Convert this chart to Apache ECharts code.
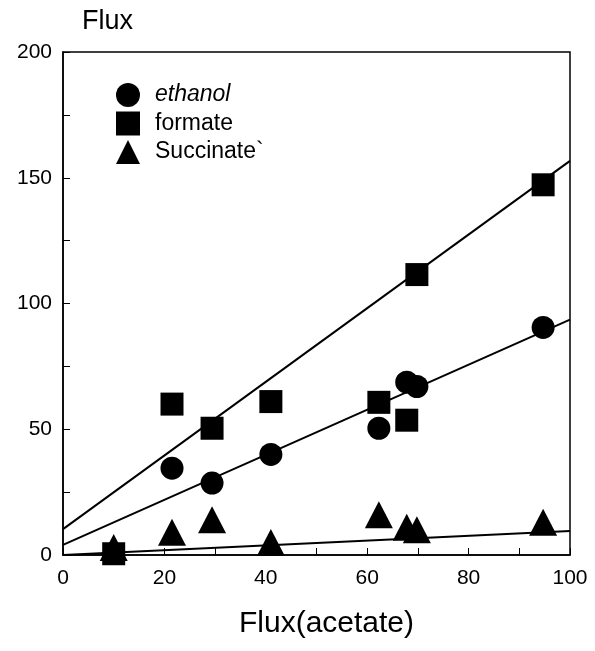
<!DOCTYPE html>
<html>
<head>
<meta charset="utf-8">
<script src="https://cdn.jsdelivr.net/npm/echarts@6/dist/echarts.min.js"></script>
<style>
  html, body { margin: 0; padding: 0; background: #fff; }
  #chart { width: 595px; height: 651px; }
</style>
</head>
<body>
<div id="chart"></div>
<script>
// 数据：乙酸通量 vs 各产物通量
var acetate = [10, 21.5, 29.4, 41, 62.3, 67.8, 69.8, 94.7];
var ethanol = [null, 34.5, 28.6, 40, 50.4, 68.7, 67, 90.5];
var formate = [0.5, 60, 50.4, 61, 60.7, 53.6, 111.5, 147.2];
var succinate = [3, 9, 14, 5, 16, 11, 10, 13];

// 拟合直线（从图上读两端）
var fitX = [0, 100];
var ethanolFit = [4, 93.6];
var formateFit = [10.3, 156.7];
var succinateFit = [0, 9.5];

function pairs(xs, ys) {
  var out = [];
  for (var i = 0; i < xs.length; i++) {
    if (ys[i] !== null) out.push([xs[i], ys[i]]);
  }
  return out;
}

var myChart = echarts.init(document.getElementById('chart'));
var font = 'Liberation Sans, Arial, Helvetica, sans-serif';

var option = {
  backgroundColor: '#fff',
  animation: false,
  textStyle: { fontFamily: font, color: '#000' },
  grid: {
    left: 63, right: 25, top: 52, bottom: 96,
    show: true, borderColor: '#000', borderWidth: 1.5
  },
  legend: {
    orient: 'vertical',
    left: 111, top: 78,
    itemWidth: 24, itemHeight: 24, itemGap: 4.5,
    data: ['ethanol', 'formate', 'Succinate`'],
    textStyle: {
      fontSize: 23, color: '#000', fontFamily: font, lineHeight: 24,
      padding: [0, 0, 0, 10],
      rich: { i: { fontStyle: 'italic', fontSize: 23, fontFamily: font, lineHeight: 24 } }
    },
    formatter: function (name) {
      return name === 'ethanol' ? '{i|ethanol}' : name;
    }
  },
  xAxis: {
    type: 'value', min: 0, max: 100, interval: 20,
    name: 'Flux(acetate)', nameLocation: 'middle', nameGap: 54,
    nameTextStyle: { fontSize: 30, color: '#000', fontFamily: font, padding: [0, 0, 0, 20] },
    axisLine: { lineStyle: { color: '#000', width: 1.5 } },
    axisTick: { inside: true, length: 7, lineStyle: { color: '#000' } },
    minorTick: { show: true, splitNumber: 2, length: 7, lineStyle: { color: '#000' } },
    splitLine: { show: false },
    axisLabel: { fontSize: 21, color: '#000', margin: 13, fontFamily: font }
  },
  yAxis: {
    type: 'value', min: 0, max: 200, interval: 50,
    name: 'Flux', nameLocation: 'end', nameGap: 17,
    nameTextStyle: { fontSize: 27, color: '#000', fontFamily: font, align: 'left', padding: [0, 0, 0, 19] },
    axisLine: { show: true, lineStyle: { color: '#000', width: 1.5 } },
    axisTick: { inside: true, length: 7, lineStyle: { color: '#000' } },
    minorTick: { show: true, splitNumber: 2, length: 7, lineStyle: { color: '#000' } },
    splitLine: { show: false },
    axisLabel: { fontSize: 21, color: '#000', margin: 11, fontFamily: font }
  },
  series: [
    {
      type: 'line', data: pairs(fitX, formateFit), symbol: 'none',
      lineStyle: { color: '#000', width: 2 }, silent: true
    },
    {
      type: 'line', data: pairs(fitX, ethanolFit), symbol: 'none',
      lineStyle: { color: '#000', width: 2 }, silent: true
    },
    {
      type: 'line', data: pairs(fitX, succinateFit), symbol: 'none',
      lineStyle: { color: '#000', width: 2 }, silent: true
    },
    {
      name: 'ethanol', type: 'scatter', symbol: 'circle', symbolSize: 23,
      itemStyle: { color: '#000', opacity: 1 }, data: pairs(acetate, ethanol)
    },
    {
      name: 'formate', type: 'scatter', symbol: 'rect', symbolSize: 23,
      itemStyle: { color: '#000', opacity: 1 }, data: pairs(acetate, formate)
    },
    {
      name: 'Succinate`', type: 'scatter', symbol: 'triangle', symbolSize: [28, 27],
      itemStyle: { color: '#000', opacity: 1 }, data: pairs(acetate, succinate)
    }
  ]
};

myChart.setOption(option);
</script>
</body>
</html>
